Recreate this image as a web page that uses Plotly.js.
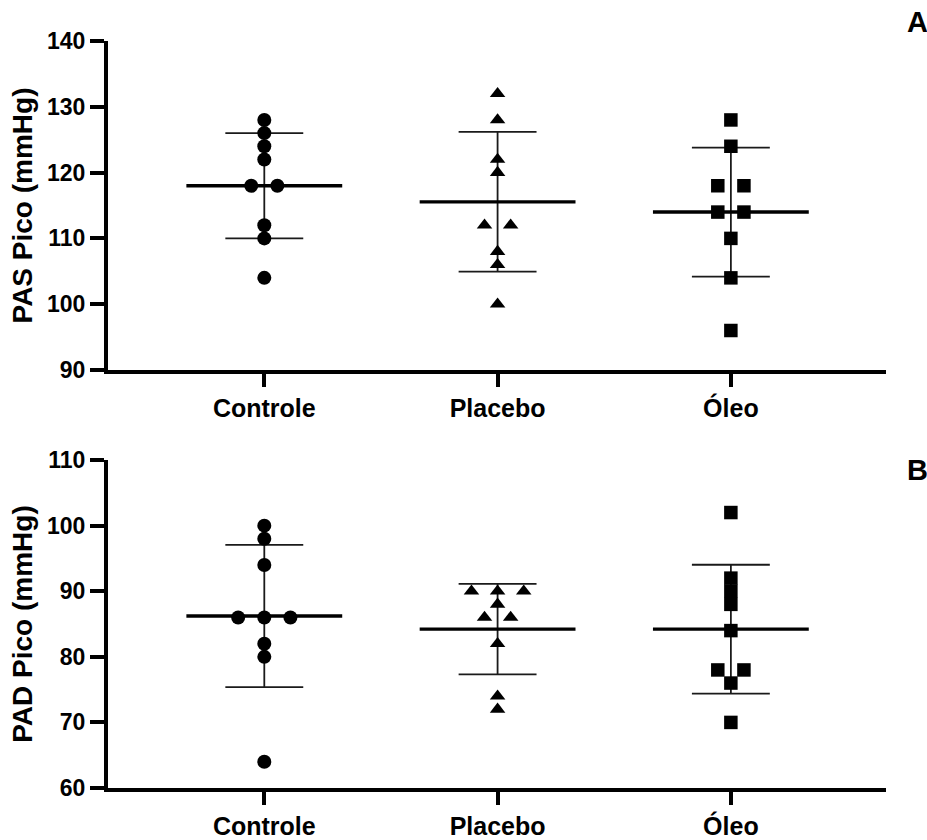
<!DOCTYPE html>
<html>
<head>
<meta charset="utf-8">
<script src="https://cdn.plot.ly/plotly-3.0.1.min.js"></script>
<style>html,body{margin:0;padding:0;background:#fff;}#chart{width:927px;height:840px;}</style>
</head>
<body>
<div id="chart"></div>
<script>
// ---- data ----
const categories = ['Controle', 'Placebo', 'Óleo'];
const pasControle = [128, 126, 124, 122, 118, 118, 112, 110, 104];
const pasPlacebo  = [132, 128, 122, 120, 112, 112, 108, 106, 100];
const pasOleo     = [128, 124, 118, 118, 114, 114, 110, 104, 96];
const padControle = [100, 98, 94, 86, 86, 86, 82, 80, 64];
const padPlacebo  = [90, 90, 90, 88, 86, 86, 82, 74, 72];
const padOleo     = [102, 92, 90, 88, 84, 78, 78, 76, 70];
const pasTicks = [90, 100, 110, 120, 130, 140];
const padTicks = [60, 70, 80, 90, 100, 110];
const pasTitle = 'PAS Pico (mmHg)';
const padTitle = 'PAD Pico (mmHg)';
const panelLabels = ['A', 'B'];

// ---- styling ----
const symbols = ['circle', 'triangle-up', 'square'];
const markerSizes = [14, 13.5, 13.5];
const spread = 0.112;     // horizontal spread for identical values
const meanHalf = 0.334;   // half-width of mean line
const capHalf = 0.167;    // half-width of SD caps
const font = {family: 'Arial, "Liberation Sans", sans-serif', color: '#000', weight: 'bold'};

function mean(a) { return a.reduce((s, v) => s + v, 0) / a.length; }
function sd(a) { const m = mean(a); return Math.sqrt(a.reduce((s, v) => s + (v - m) * (v - m), 0) / (a.length - 1)); }
function spreadX(vals, center) {
  const counts = {}, seen = {};
  vals.forEach(v => counts[v] = (counts[v] || 0) + 1);
  return vals.map(v => {
    const i = seen[v] || 0; seen[v] = i + 1;
    return center + (i - (counts[v] - 1) / 2) * spread;
  });
}

const traces = [];
function addPanel(groups, xa, ya) {
  groups.forEach((vals, g) => {
    const m = mean(vals), s = sd(vals);
    traces.push({
      x: [g - capHalf, g + capHalf, null, g, g, null, g - capHalf, g + capHalf],
      y: [m + s, m + s, null, m + s, m - s, null, m - s, m - s],
      xaxis: xa, yaxis: ya, mode: 'lines', line: {color: '#1a1a1a', width: 1.8},
      hoverinfo: 'skip', showlegend: false
    });
    traces.push({
      x: [g - meanHalf, g + meanHalf], y: [m, m],
      xaxis: xa, yaxis: ya, mode: 'lines', line: {color: '#000', width: 3.4},
      hoverinfo: 'skip', showlegend: false
    });
  });
  groups.forEach((vals, g) => {
    traces.push({
      x: spreadX(vals, g), y: vals, xaxis: xa, yaxis: ya,
      mode: 'markers', type: 'scatter', name: categories[g],
      marker: {symbol: symbols[g], size: markerSizes[g], color: '#000'},
      showlegend: false
    });
  });
}
addPanel([pasControle, pasPlacebo, pasOleo], 'x', 'y');
addPanel([padControle, padPlacebo, padOleo], 'x2', 'y2');

function xAxis(anchor) {
  return {
    anchor: anchor, range: [-0.67, 2.665], tickvals: [0, 1, 2], ticktext: categories,
    showline: true, linewidth: 4, linecolor: '#000', ticks: 'outside', ticklen: 13,
    tickwidth: 4, tickcolor: '#000', showgrid: false, zeroline: false,
    tickfont: Object.assign({size: 25}, font), fixedrange: true
  };
}
function yAxis(anchor, domain, ticks, title) {
  return {
    anchor: anchor, domain: domain, range: [ticks[0], ticks[ticks.length - 1]],
    tickvals: ticks, showline: true, linewidth: 4, linecolor: '#000',
    ticks: 'outside', ticklen: 14, tickwidth: 4, tickcolor: '#000',
    showgrid: false, zeroline: false, tickfont: Object.assign({size: 23}, font),
    title: {text: title, font: Object.assign({size: 28}, font), standoff: 7}
  };
}

const layout = {
  width: 927, height: 840, paper_bgcolor: '#fff', plot_bgcolor: '#fff',
  margin: {l: 108, r: 41, t: 41, b: 52},
  xaxis: Object.assign(xAxis('y'), {domain: [0, 1]}),
  yaxis: yAxis('x', [0.5596, 1], pasTicks, pasTitle),
  xaxis2: Object.assign(xAxis('y2'), {domain: [0, 1]}),
  yaxis2: yAxis('x2', [0, 0.439], padTicks, padTitle),
  annotations: [
    {text: panelLabels[0], xref: 'paper', yref: 'paper', x: 1.025, y: 1.025, xanchor: 'left', yanchor: 'middle', showarrow: false, font: Object.assign({size: 29}, font)},
    {text: panelLabels[1], xref: 'paper', yref: 'paper', x: 1.025, y: 0.4257, xanchor: 'left', yanchor: 'middle', showarrow: false, font: Object.assign({size: 29}, font)}
  ],
  showlegend: false
};

Plotly.newPlot('chart', traces, layout, {displayModeBar: false, staticPlot: true});
</script>
</body>
</html>
